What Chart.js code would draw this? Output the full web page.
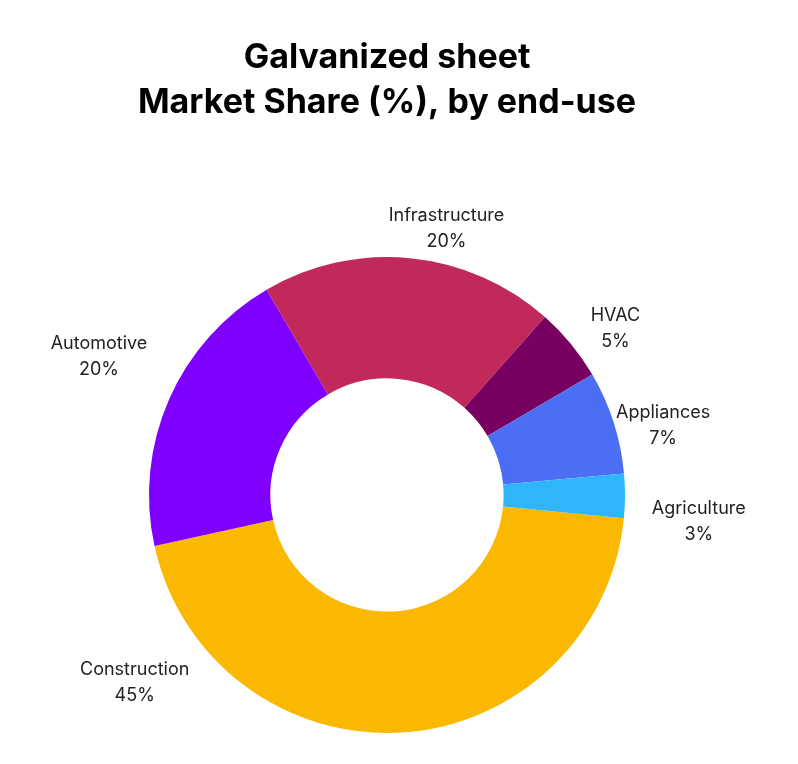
<!DOCTYPE html>
<html>
<head>
<meta charset="utf-8">
<script src="https://cdn.jsdelivr.net/npm/chart.js@4"></script>
<style>
  body { margin: 0; background: #fff; }
</style>
</head>
<body>
<canvas id="chart" width="798" height="764"></canvas>
<script>
// Galvanized sheet market share by end-use
const categories = ['Construction', 'Automotive', 'Infrastructure', 'HVAC', 'Appliances', 'Agriculture'];
const shares = [45, 20, 20, 5, 7, 3];
const colors = ['#FBB800', '#7F00FF', '#C0295A', '#780060', '#4C6EF5', '#2EB5FA'];
const titleLines = ['Galvanized sheet', 'Market Share (%), by end-use'];

// label anchor offsets, as multiples of outer radius from centre
const labelOffsets = [[-1.06, 0.79], [-1.21, -0.58], [0.25, -1.12], [0.96, -0.70], [1.16, -0.29], [1.31, 0.11]];

const labelPlugin = {
    id: 'labels',
    afterDraw(chart) {
        const ctx = chart.ctx;
        ctx.save();
        ctx.fillStyle = '#000';
        ctx.textAlign = 'center';
        ctx.textBaseline = 'middle';
        ctx.font = 'bold 34px Inter, sans-serif';
        ctx.fillText(titleLines[0], 387, 58);
        ctx.fillText(titleLines[1], 387, 103);

        const arc = chart.getDatasetMeta(0).data[0];
        const cx = arc.x, cy = arc.y, r = arc.outerRadius;
        ctx.fillStyle = '#222';
        ctx.font = '18px Inter, sans-serif';
        categories.forEach((c, i) => {
            const x = cx + labelOffsets[i][0] * r;
            const y = cy + labelOffsets[i][1] * r;
            ctx.fillText(c, x, y - 13);
            ctx.fillText(shares[i] + '%', x, y + 13);
        });
        ctx.restore();
    }
};

new Chart(document.getElementById('chart'), {
    type: 'doughnut',
    data: {
        labels: categories,
        datasets: [{
            data: shares,
            backgroundColor: colors,
            borderWidth: 0
        }]
    },
    options: {
        responsive: false,
        animation: false,
        cutout: '49%',
        rotation: 95.6,
        layout: { padding: { top: 257, bottom: 31, left: 0, right: 24 } },
        plugins: {
            legend: { display: false },
            tooltip: { enabled: false }
        }
    },
    plugins: [labelPlugin]
});
</script>
</body>
</html>
